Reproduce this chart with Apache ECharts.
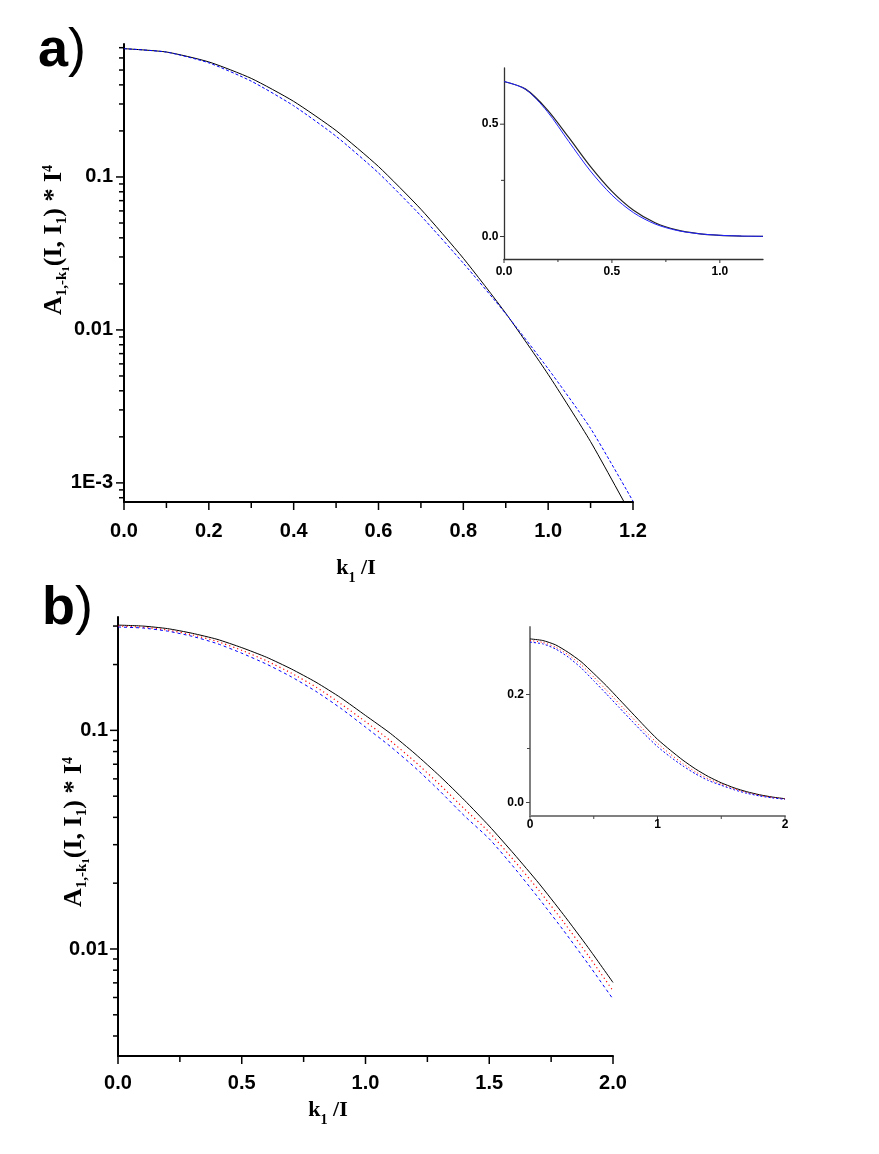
<!DOCTYPE html>
<html><head><meta charset="utf-8">
<script src="https://cdn.jsdelivr.net/npm/echarts@6/dist/echarts.min.js"></script>
<style>html,body{margin:0;padding:0;background:#fff}#c{width:879px;height:1154px}</style>
</head><body><div id="c"></div>
<script>
// ---------- data ----------
const kA = [0.0, 0.1, 0.2, 0.3, 0.4, 0.5, 0.6, 0.7, 0.8, 0.9, 1.0, 1.1, 1.2];
const aBlack = [0.690, 0.656, 0.565, 0.441, 0.312, 0.201, 0.117, 0.0615, 0.0294, 0.01285, 0.00512, 0.00186, 0.000587];
const aBlue  = [0.690, 0.655, 0.557, 0.423, 0.292, 0.1845, 0.1062, 0.0557, 0.0273, 0.01276, 0.00557, 0.00227, 0.000759];

const kB = [0.0, 0.1, 0.2, 0.3, 0.4, 0.5, 0.6, 0.7, 0.8, 0.9, 1.0, 1.1, 1.2, 1.3, 1.4, 1.5, 1.6, 1.7, 1.8, 1.9, 2.0];
const bBlack = [0.303, 0.300, 0.292, 0.278, 0.261, 0.239, 0.216, 0.191, 0.166, 0.141, 0.117, 0.097, 0.0782, 0.0618, 0.0479, 0.0365, 0.0272, 0.0200, 0.01436, 0.01014, 0.00703];
const bRed   = [0.300, 0.2965, 0.2877, 0.2735, 0.2553, 0.2323, 0.2080, 0.1828, 0.1578, 0.1324, 0.1096, 0.0897, 0.0719, 0.0565, 0.0437, 0.0342, 0.0254, 0.01858, 0.0133, 0.00933, 0.00644];
const bBlue  = [0.297, 0.2938, 0.2844, 0.2692, 0.2495, 0.2254, 0.2009, 0.1758, 0.1507, 0.1262, 0.1035, 0.0845, 0.0676, 0.0528, 0.0406, 0.0319, 0.0236, 0.01706, 0.01216, 0.00853, 0.0059];

// ---------- ticks and tick labels ----------
const aXMajor = [0, 0.2, 0.4, 0.6, 0.8, 1.0, 1.2];
const aXLabels = ['0.0', '0.2', '0.4', '0.6', '0.8', '1.0', '1.2'];
const aXMinor = [0.1, 0.3, 0.5, 0.7, 0.9, 1.1];
const aYMajor = [0.001, 0.01, 0.1];
const aYLabels = ['1E-3', '0.01', '0.1'];
const aYMinor = [0.0008, 0.0009, 0.002, 0.003, 0.004, 0.005, 0.006, 0.007, 0.008, 0.009,
                 0.02, 0.03, 0.04, 0.05, 0.06, 0.07, 0.08, 0.09, 0.2, 0.3, 0.4, 0.5, 0.6, 0.7];
const aInXMajor = [0, 0.5, 1.0];
const aInXLabels = ['0.0', '0.5', '1.0'];
const aInXMinor = [0.25, 0.75];
const aInYMajor = [0, 0.5];
const aInYLabels = ['0.0', '0.5'];
const aInYMinor = [0.25];

const bXMajor = [0, 0.5, 1.0, 1.5, 2.0];
const bXLabels = ['0.0', '0.5', '1.0', '1.5', '2.0'];
const bXMinor = [0.25, 0.75, 1.25, 1.75];
const bYMajor = [0.01, 0.1];
const bYLabels = ['0.01', '0.1'];
const bYMinor = [0.004, 0.005, 0.006, 0.007, 0.008, 0.009, 0.02, 0.03, 0.04, 0.05, 0.06, 0.07, 0.08, 0.09, 0.2, 0.3];
const bInXMajor = [0, 1, 2];
const bInXLabels = ['0', '1', '2'];
const bInXMinor = [0.5, 1.5];
const bInYMajor = [0, 0.2];
const bInYLabels = ['0.0', '0.2'];
const bInYMinor = [0.1];

// ---------- styling ----------
const SANS = "'Liberation Sans', Arial, Helvetica, sans-serif";
const SERIF = "'Liberation Serif', 'Times New Roman', Times, serif";

const X_RANGE = [[0, 1.2], [0, 1.2], [0, 2], [0, 2]];
const Y_RANGE = [[0.00075, 0.74], [-0.1, 0.75], [0.00324, 0.33], [-0.025, 0.325]];
const Y_TYPE = ['log', 'value', 'log', 'value'];
const AXIS_COLOR = ['#000', '#333', '#000', '#808080'];
const AXIS_W = [2, 1.3, 2, 2];

function pairs(xs, ys) { return xs.map((x, i) => [x, ys[i]]); }

function line(grid, xs, ys, color, type, width, smooth) {
  return {
    type: 'line', xAxisIndex: grid, yAxisIndex: grid, data: pairs(xs, ys),
    showSymbol: false, symbol: 'none', smooth: smooth || false, clip: true, silent: true,
    lineStyle: { color: color, width: width || 1, type: type || 'solid' }, z: 3
  };
}

// tick marks (and optional labels) placed with the axis scales
function marks(grid, dim, values, labels, o) {
  const base = dim === 'x' ? Y_RANGE[grid][0] : X_RANGE[grid][0];
  return {
    type: 'custom', xAxisIndex: grid, yAxisIndex: grid, silent: true, clip: false, z: 6,
    data: values.map(v => dim === 'x' ? [v, base] : [base, v]),
    renderItem: function (params, api) {
      const p = api.coord([api.value(0), api.value(1)]);
      const ch = [];
      if (dim === 'x') {
        ch.push({ type: 'line', shape: { x1: p[0], y1: p[1], x2: p[0], y2: p[1] + o.len },
                  style: { stroke: o.color || '#000', lineWidth: o.w || 1.5 } });
        if (labels) ch.push({ type: 'text', x: p[0], y: p[1] + o.gap,
                  style: { text: labels[params.dataIndex], fill: '#000', font: o.font,
                           align: 'center', verticalAlign: 'middle', textAlign: 'center', textVerticalAlign: 'middle' } });
      } else {
        ch.push({ type: 'line', shape: { x1: p[0] - o.len, y1: p[1], x2: p[0], y2: p[1] },
                  style: { stroke: o.color || '#000', lineWidth: o.w || 1.5 } });
        if (labels) ch.push({ type: 'text', x: p[0] - o.gap, y: p[1],
                  style: { text: labels[params.dataIndex], fill: '#000', font: o.font,
                           align: 'right', verticalAlign: 'middle', textAlign: 'right', textVerticalAlign: 'middle' } });
      }
      return { type: 'group', children: ch };
    }
  };
}

const grids = [
  { left: 124, top: 44, width: 509, height: 458 },
  { left: 504, top: 68, width: 259, height: 191 },
  { left: 118, top: 617, width: 495, height: 439 },
  { left: 530, top: 627, width: 255, height: 189 }
].map(g => Object.assign({ containLabel: false, outerBoundsMode: 'none', show: false }, g));

function axisBase(i) {
  return {
    gridIndex: i, splitLine: { show: false }, axisTick: { show: false }, axisLabel: { show: false },
    minorTick: { show: false },
    axisLine: { show: true, onZero: false, lineStyle: { color: AXIS_COLOR[i], width: AXIS_W[i] } }
  };
}
const xAxes = [0, 1, 2, 3].map(i => Object.assign(axisBase(i), { type: 'value', position: 'bottom', min: X_RANGE[i][0], max: X_RANGE[i][1] }));
const yAxes = [0, 1, 2, 3].map(i => Object.assign(axisBase(i), { type: Y_TYPE[i], position: 'left', min: Y_RANGE[i][0], max: Y_RANGE[i][1] },
                                                   Y_TYPE[i] === 'log' ? { logBase: 10 } : {}));

const mainFont = 'bold 20px ' + SANS;
const insetFont = 'bold 12px ' + SANS;

const series = [
  // panel a main
  line(0, kA, aBlack, '#000000', 'solid', 1, 0.2),
  line(0, kA, aBlue, '#0000ff', [3, 2], 1, 0.2),
  // panel a inset
  line(1, kA, aBlack, '#222222', 'solid', 1.2, 0.3),
  line(1, kA, aBlue, '#2020ff', 'solid', 1, 0.3),
  // panel b main
  line(2, kB, bBlack, '#000000', 'solid', 1, 0.2),
  line(2, kB, bRed, '#ff0000', [1.2, 3], 1.2, 0.2),
  line(2, kB, bBlue, '#0000ff', [3, 3], 1, 0.2),
  // panel b inset
  line(3, kB, bBlack, '#000000', 'solid', 1, 0.2),
  line(3, kB, bRed, '#ff0000', [1, 2.5], 1, 0.2),
  line(3, kB, bBlue, '#0000ff', [2, 2], 1, 0.2),

  // axis marks
  marks(0, 'x', aXMajor, aXLabels, { len: 8, gap: 29, font: mainFont }),
  marks(0, 'x', aXMinor, null, { len: 6 }),
  marks(0, 'y', aYMajor, aYLabels, { len: 8, gap: 11, font: mainFont }),
  marks(0, 'y', aYMinor, null, { len: 5 }),
  marks(1, 'x', aInXMajor, aInXLabels, { len: 4, gap: 13, font: insetFont, w: 1, color: '#333' }),
  marks(1, 'x', aInXMinor, null, { len: 3, w: 1, color: '#333' }),
  marks(1, 'y', aInYMajor, aInYLabels, { len: 4, gap: 5.5, font: insetFont, w: 1, color: '#333' }),
  marks(1, 'y', aInYMinor, null, { len: 3, w: 1, color: '#333' }),
  marks(2, 'x', bXMajor, bXLabels, { len: 8, gap: 27, font: mainFont }),
  marks(2, 'x', bXMinor, null, { len: 6 }),
  marks(2, 'y', bYMajor, bYLabels, { len: 8, gap: 10, font: mainFont }),
  marks(2, 'y', bYMinor, null, { len: 5 }),
  marks(3, 'x', bInXMajor, bInXLabels, { len: 3, gap: 9, font: insetFont, w: 1, color: '#444' }),
  marks(3, 'x', bInXMinor, null, { len: 3, w: 1, color: '#444' }),
  marks(3, 'y', bInYMajor, bInYLabels, { len: 4, gap: 6, font: insetFont, w: 1, color: '#444' }),
  marks(3, 'y', bInYMinor, null, { len: 3, w: 1, color: '#444' })
];

const yTitleRich = {
  A: { fontSize: 26, fontWeight: 'bold', fontFamily: SERIF },
  s: { fontSize: 15, fontWeight: 'bold', fontFamily: SERIF, padding: [16, 0, 0, 0] },
  ss: { fontSize: 11, fontWeight: 'bold', fontFamily: SERIF, padding: [25, 0, 0, 0] },
  sup: { fontSize: 14, fontWeight: 'bold', fontFamily: SERIF, padding: [0, 0, 11, 0] }
};
const yTitle = '{A|A}{s|1,-k}{ss|1}{A|(I, I}{s|1}{A|) * I}{sup|4}';
const xTitleRich = {
  k: { fontSize: 22, fontWeight: 'bold', fontFamily: SERIF },
  s: { fontSize: 14, fontWeight: 'bold', fontFamily: SERIF, padding: [20, 0, 0, 0] }
};
const xTitle = '{k|k}{s|1}{k| /I}';
const panelRich = {
  b: { fontSize: 54, fontWeight: 'bold', fontFamily: SANS },
  p: { fontSize: 54, fontWeight: 'normal', fontFamily: SANS }
};

function txt(x, y, text, rich, rot, align) {
  return {
    type: 'text', x: x, y: y, rotation: rot || 0, z: 10, silent: true,
    style: { text: text, rich: rich, fill: '#000', font: 'bold 20px ' + SERIF,
             align: align || 'center', verticalAlign: 'middle',
             textAlign: align || 'center', textVerticalAlign: 'middle' }
  };
}

const graphic = [
  txt(38, 51, '{b|a}{p|)}', panelRich, 0, 'left'),
  txt(42, 609, '{b|b}{p|)}', panelRich, 0, 'left'),
  txt(54, 240, yTitle, yTitleRich, Math.PI / 2),
  txt(74, 832, yTitle, yTitleRich, Math.PI / 2),
  txt(356, 568, xTitle, xTitleRich),
  txt(328, 1110, xTitle, xTitleRich)
];

const chart = echarts.init(document.getElementById('c'), null, { renderer: 'canvas', width: 879, height: 1154 });
chart.setOption({
  animation: false,
  backgroundColor: '#ffffff',
  grid: grids,
  xAxis: xAxes,
  yAxis: yAxes,
  series: series,
  graphic: graphic
});
</script></body></html>
